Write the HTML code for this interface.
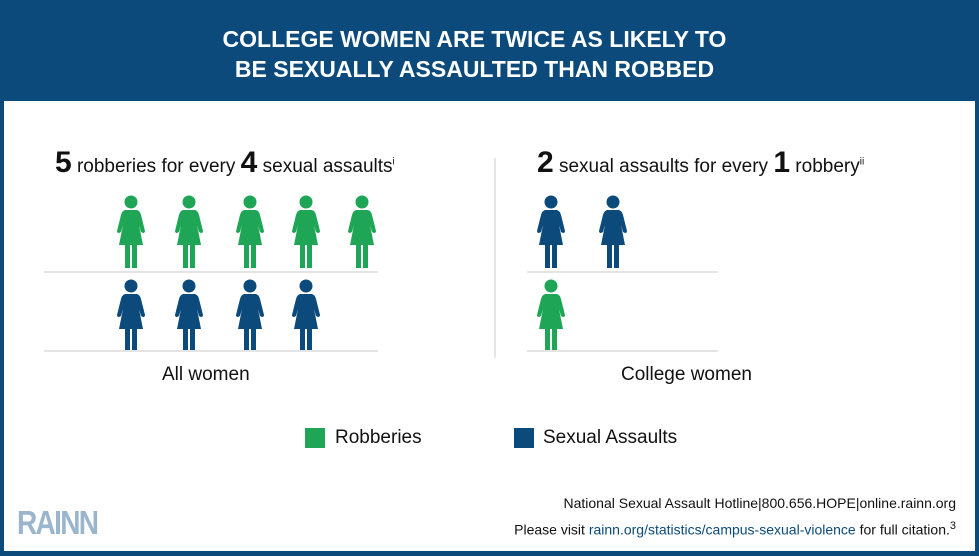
<!DOCTYPE html>
<html><head><meta charset="utf-8"><style>
body{margin:0;width:979px;height:556px;overflow:hidden;font-family:"Liberation Sans",sans-serif}
#frame{position:absolute;left:0;top:0;width:979px;height:556px;background:#0b4a7b}
#inner{position:absolute;left:4px;top:101px;width:971px;height:450px;background:#fff}
.t{position:absolute;white-space:nowrap}
</style></head><body>
<div id="frame"></div>
<div id="inner"></div>
<div class="t" style="left:0;width:949px;top:24px;text-align:center;color:#fff;font-weight:bold;font-size:23px;line-height:30px">COLLEGE WOMEN ARE TWICE AS LIKELY TO<br>BE SEXUALLY ASSAULTED THAN ROBBED</div>
<div class="t" style="left:55px;top:146px;font-size:19px;color:#111"><b style="font-size:30px">5</b> robberies for every <b style="font-size:30px">4</b> sexual assaults<sup style="font-size:10px">i</sup></div>
<div class="t" style="left:537px;top:146px;font-size:19px;color:#111"><b style="font-size:30px">2</b> sexual assaults for every <b style="font-size:30px">1</b> robbery<sup style="font-size:10px">ii</sup></div>
<div style="position:absolute;left:494px;top:158px;width:2px;height:200px;background:#e6e6e6"></div>
<svg id="chart" width="979" height="556" style="position:absolute;left:0;top:0"></svg>
<div class="t" style="left:162px;top:364px;font-size:19px;color:#111">All women</div>
<div class="t" style="left:621px;top:364px;font-size:19px;color:#111">College women</div>
<div style="position:absolute;left:305px;top:428px;width:20px;height:20px;background:#1ea656"></div>
<div class="t" style="left:335px;top:427px;font-size:19px;color:#111">Robberies</div>
<div style="position:absolute;left:514px;top:428px;width:20px;height:20px;background:#0b4a7b"></div>
<div class="t" style="left:543px;top:427px;font-size:19px;color:#111">Sexual Assaults</div>
<div class="t" style="right:23px;top:495px;font-size:14px;color:#111">National Sexual Assault Hotline|800.656.HOPE|online.rainn.org</div>
<div class="t" style="right:23px;top:520px;font-size:14px;color:#111">Please visit <span style="color:#0b4a7b">rainn.org/statistics/campus-sexual-violence</span> for full citation.<sup style="font-size:11px">3</sup></div>
<div class="t" style="left:17px;top:504px;font-size:33px;font-weight:bold;color:#9bb6cc;letter-spacing:-2px;transform:scaleX(0.85);transform-origin:left">RAINN</div>
<script>
const groups=["All women","College women"];
const robberies=[5,1];
const assaults=[4,2];
const groupX=[[131,189,250,306,362],[551,613]];
const groupLine=[[44,378],[527,718]];
const svg=document.getElementById('chart');
const NS='http://www.w3.org/2000/svg';
function fig(cx,top,color,name){
  const g=document.createElementNS(NS,'g');
  
  
  g.setAttribute('transform','translate('+(cx-15)+','+top+')');
  g.setAttribute('fill',color);
  g.innerHTML='<circle cx="15" cy="7" r="6.5"/><path d="M9 15 L21 15 Q24 16 25 20 L29 36 Q29 38 27 38 L25 37 L23 30 L27 50 L3 50 L7 30 L5 37 L3 38 Q1 38 1 36 L5 20 Q6 16 9 15Z"/><rect x="9" y="49" width="5" height="24"/><rect x="16" y="49" width="5" height="24"/>';
  svg.appendChild(g);
}
function line(x1,x2,y){
  const l=document.createElementNS(NS,'line');
  
  
  l.setAttribute('x1',x1);l.setAttribute('x2',x2);l.setAttribute('y1',y);l.setAttribute('y2',y);
  l.setAttribute('stroke','#e4e4e4');l.setAttribute('stroke-width','2');
  svg.appendChild(l);
}
groups.forEach((g,i)=>{
  // top row: larger count
  const topIsRob=robberies[i]>=assaults[i];
  const topN=topIsRob?robberies[i]:assaults[i], botN=topIsRob?assaults[i]:robberies[i];
  const topC=topIsRob?'#1ea656':'#0b4a7b', botC=topIsRob?'#0b4a7b':'#1ea656';
  for(let k=0;k<topN;k++) fig(groupX[i][k],195,topC,topIsRob?'robbery-icon':'assault-icon');
  for(let k=0;k<botN;k++) fig(groupX[i][k],279,botC,topIsRob?'assault-icon':'robbery-icon');
  line(groupLine[i][0],groupLine[i][1],272);
  line(groupLine[i][0],groupLine[i][1],351);
});
</script>
</body></html>
